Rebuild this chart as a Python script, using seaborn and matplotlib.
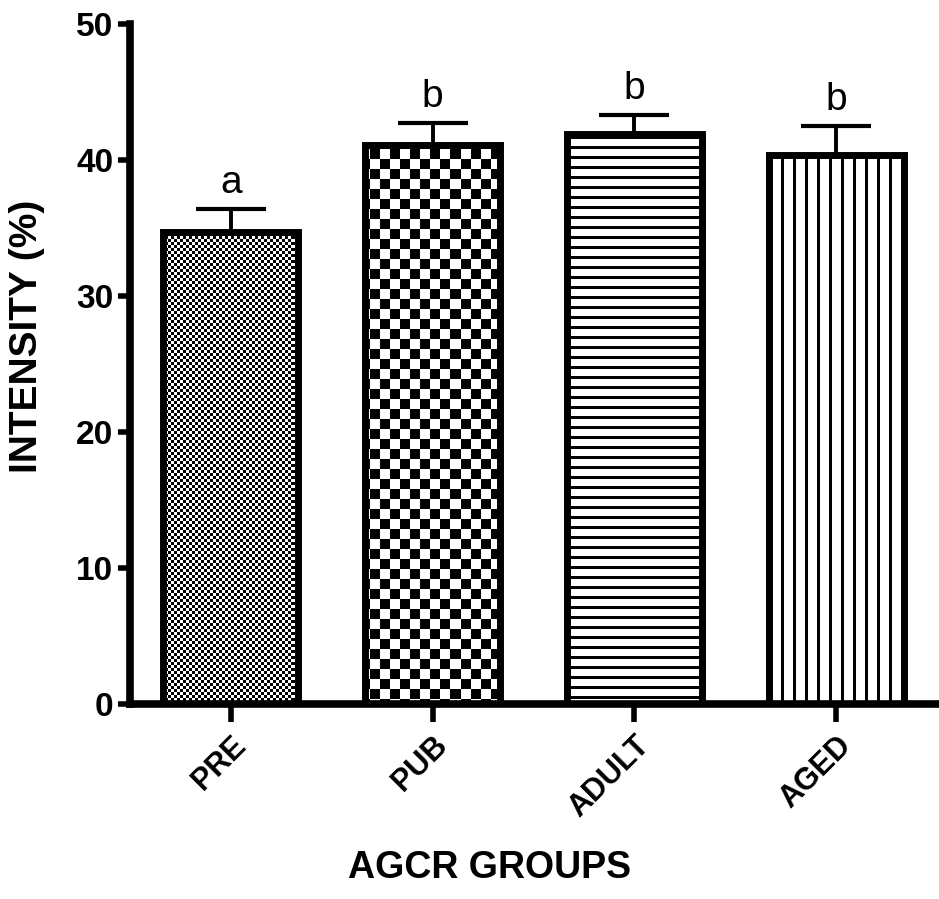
import numpy as np
import pandas as pd
import matplotlib
matplotlib.use("Agg")
import matplotlib.pyplot as plt
import seaborn as sns

# Group means and SEM of staining intensity
groups = ["PRE", "PUB", "ADULT", "AGED"]
means = [34.7, 41.1, 41.9, 40.4]
sems = [1.7, 1.6, 1.4, 2.1]
letters = ["a", "b", "b", "b"]
y_ticks = [0, 10, 20, 30, 40, 50]

sns.set_style("ticks")
plt.rcParams["font.family"] = ["Liberation Sans", "DejaVu Sans"]
plt.rcParams.update({
    "text.color": "black", "axes.labelcolor": "black",
    "axes.edgecolor": "black", "xtick.color": "black",
    "ytick.color": "black",
})

W, H, DPI = 939, 899, 100
fig = plt.figure(figsize=(W / DPI, H / DPI), dpi=DPI)
ax = fig.add_axes([130 / W, (H - 704) / H, (937 - 130) / W, (704 - 24) / H])

df = pd.DataFrame({"group": groups, "value": means})
sns.barplot(data=df, x="group", y="value", ax=ax, width=0.67,
            color="white", edgecolor="black", linewidth=5, errorbar=None)

# upper-only error bars
ax.errorbar(range(len(groups)), means, yerr=[np.zeros(len(sems)), sems],
            fmt="none", ecolor="black", elinewidth=2.8, capsize=25,
            capthick=3, zorder=1)

ax.set_xlim(-0.5, 3.5)
ax.set_ylim(0, 50)
ax.set_yticks(y_ticks)

for spine in ["top", "right"]:
    ax.spines[spine].set_visible(False)
for spine in ["left", "bottom"]:
    ax.spines[spine].set_linewidth(5.5)
    ax.spines[spine].set_capstyle("projecting")

ax.tick_params(axis="y", length=9, width=4, labelsize=24, pad=3)
ax.tick_params(axis="x", length=13, width=4, labelsize=22, pad=6)
for lab in ax.get_yticklabels() + ax.get_xticklabels():
    lab.set_fontweight("bold")
for lab in ax.get_xticklabels():
    lab.set_rotation(45)
    lab.set_ha("right")
    lab.set_va("top")
    lab.set_rotation_mode("anchor")

ax.set_xlabel("AGCR GROUPS", fontsize=27, fontweight="bold")
ax.set_ylabel("INTENSITY (%)", fontsize=28, fontweight="bold")
ax.xaxis.set_label_coords(0.446, -0.215)
ax.yaxis.set_label_coords(-0.105, 0.54)

# significance letters above the error bars
for i, (m, s, t) in enumerate(zip(means, sems, letters)):
    ax.annotate(t, (i, m + s), xytext=(0, 6), textcoords="offset points",
                ha="center", va="bottom", fontsize=28)

# fill patterns, built in pixel space and clipped to each bar
fig.canvas.draw()
bb = ax.get_window_extent()
x0p, y0p = np.floor(bb.x0), np.floor(bb.y0)
x1p, y1p = np.ceil(bb.x1), np.ceil(bb.y1)
pw, ph = int(x1p - x0p), int(y1p - y0p)
px = np.arange(pw)[None, :] + x0p
py = np.arange(ph)[:, None] + y0p
inv = ax.transData.inverted()
(dx0, dy0), (dx1, dy1) = inv.transform([(x0p, y0p), (x1p, y1p)])


def fine_check(x, y):
    return ((x // 3 + y // 3) % 2).astype(float)


def coarse_check(x, y):
    return ((x // 10 + y // 10) % 2).astype(float)


def hlines(x, y):
    return ((y % 10) < 3).astype(float) + 0 * x


def vlines(x, y):
    return ((x % 12) < 3).astype(float) + 0 * y


patterns = [fine_check, coarse_check, hlines, vlines]
bars = [p for p in ax.patches]
for bar, pat in zip(bars, patterns):
    arr = pat(px, py)
    im = ax.imshow(arr, cmap="gray_r", vmin=0, vmax=1, origin="lower",
                   extent=(dx0, dx1, dy0, dy1), aspect="auto",
                   interpolation="nearest", zorder=1.5)
    im.set_clip_path(bar)
    bar.set_facecolor("none")
    bar.set_zorder(3)

ax.set_xlim(-0.5, 3.5)
ax.set_ylim(0, 50)

fig.savefig("out.png", dpi=DPI)
